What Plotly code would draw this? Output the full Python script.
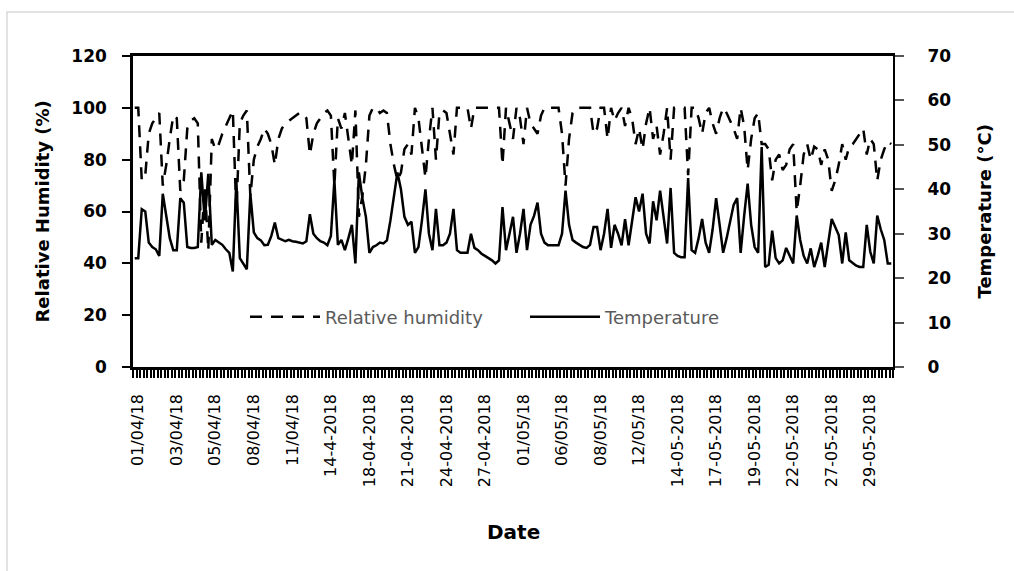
import plotly.graph_objects as go

# Tick labels shown along the date axis (one every 11 readings)
date_labels = [
    "01/04/18", "03/04/18", "05/04/18", "08/04/18", "11/04/18",
    "14-4-2018", "18-04-2018", "21-04-2018", "24-04-2018", "27-04-2018",
    "01/05/18", "06/05/18", "08/05/18", "12/05/18", "14-05-2018",
    "17-05-2018", "19-05-2018", "22-05-2018", "27-05-2018", "29-05-2018",
]

# Air temperature (°C), one value per reading
temperature = [
    24.5, 24.5, 35.5, 35, 28, 27, 26.5, 25, 39, 34,
    29, 26.3, 26.3, 38, 37, 27, 26.8, 26.8, 27, 43.8,
    33, 43.5, 27.5, 28.6, 28, 27.5, 26.5, 25.7, 21.5, 42,
    24.5, 23.3, 22, 39, 30.3, 29, 28.5, 27.4, 27.5, 29.5,
    32.5, 29, 28.6, 28.3, 28.6, 28.3, 28.2, 28, 27.8, 28.3,
    34.4, 30, 29, 28.3, 28, 27.4, 29.5, 42, 27.5, 28.6,
    26.3, 29, 32, 23.3, 43.8, 38, 33.8, 25.7, 27, 27.4,
    28, 27.8, 28.5, 33, 38, 43.8, 40, 33.8, 32, 32.7,
    25.7, 27, 33, 40, 30, 26.3, 35.6, 27.4, 27.4, 28,
    30, 35.6, 26.3, 25.7, 25.7, 25.7, 30, 26.8, 26.3, 25.5,
    25, 24.5, 24, 23.3, 24, 36, 26.3, 30, 33.8, 25.7,
    30, 35.6, 26.3, 32, 34, 37, 30, 28, 27.4, 27.4,
    27.4, 27.4, 30, 39.7, 32, 28.6, 28, 27.4, 27, 26.8,
    27.5, 31.5, 31.5, 26.3, 30, 35.6, 26.8, 32, 30, 27.4,
    33.3, 27.4, 33, 38.2, 35, 39, 30, 27.8, 37.3, 33,
    39.7, 34, 27.8, 40.3, 25.7, 25, 24.7, 24.7, 42.5, 26.3,
    25.7, 29, 33.3, 28, 25.7, 31, 38, 32, 25.7, 29,
    33, 36.5, 38, 25.7, 34, 41.3, 32, 27, 25.7, 49.5,
    22.5, 23, 30.7, 24.5, 23.3, 24, 26.8, 25, 23.3, 34.1,
    28.6, 25, 23.3, 26.7, 22.5, 25, 28, 22.5, 28, 33.3,
    31.5, 29.7, 23.3, 30.3, 24, 23.3, 22.8, 22.5, 22.5, 32,
    26, 23.3, 34.1, 31, 28.6, 23.3, 23.3,
]

# Relative humidity (%), one value per reading
humidity = [
    100, 100, 72, 74, 90, 94, 96, 98, 70, 78,
    88, 97, 96, 68, 72, 92, 95, 96, 94, 48,
    70, 45, 88, 84, 86, 90, 93, 96, 99, 60,
    94, 97, 99, 66, 80, 85, 88, 92, 90, 86,
    78, 88, 92, 94, 95, 96, 97, 98, 98, 96,
    82, 90, 94, 96, 98, 99, 97, 70, 96, 92,
    98, 88, 78, 99, 58, 66, 78, 97, 100, 100,
    98, 99, 98, 86, 78, 72, 75, 84, 86, 82,
    100, 96, 84, 73, 88, 100, 80, 98, 99, 98,
    90, 82, 100, 100, 100, 100, 92, 100, 100, 100,
    100, 100, 100, 100, 100, 78, 100, 94, 88, 100,
    96, 86, 100, 94, 92, 90, 97, 100, 100, 100,
    100, 100, 90, 70, 88, 98, 100, 100, 100, 100,
    100, 90, 92, 100, 100, 88, 100, 95, 98, 100,
    93, 100, 96, 86, 92, 84, 94, 100, 88, 93,
    82, 90, 100, 80, 100, 100, 100, 100, 74, 100,
    100, 96, 90, 98, 100, 94, 90, 96, 100, 98,
    95, 92, 88, 100, 93, 76, 88, 96, 98, 86,
    86, 84, 72, 80, 82, 76, 78, 84, 86, 60,
    70, 82, 86, 80, 85, 84, 78, 84, 80, 68,
    72, 78, 86, 80, 85, 86, 88, 90, 92, 82,
    88, 86, 72, 80, 84, 87, 86,
]

n = len(temperature)
x = list(range(n))
label_pos = [1 + 11 * k for k in range(len(date_labels))]

FONT = "DejaVu Sans"

fig = go.Figure()
fig.add_trace(go.Scatter(
    x=x, y=humidity, mode="lines", name="Relative humidity",
    line=dict(color="black", width=2.5, dash="12px,9px"),
    yaxis="y",
))
fig.add_trace(go.Scatter(
    x=x, y=temperature, mode="lines", name="Temperature",
    line=dict(color="black", width=2.5),
    yaxis="y2",
))

W, H = 1014, 571
L, R, T, B = 133, 121, 56, 204
pw, ph = W - L - R, H - T - B


def px_x(p):
    return (p - L) / pw


def px_y(p):
    return (H - B - p) / ph


fig.update_layout(
    width=W, height=H,
    margin=dict(l=L, r=R, t=T, b=B),
    paper_bgcolor="white", plot_bgcolor="white",
    font=dict(family=FONT, color="black"),
    showlegend=True,
    legend=dict(
        orientation="h", x=px_x(245), y=px_y(317),
        xanchor="left", yanchor="middle",
        bgcolor="rgba(0,0,0,0)",
        font=dict(family=FONT, size=18, color="#5a5a5a"),
        itemwidth=70, tracegroupgap=0,
        entrywidth=195, entrywidthmode="pixels",
    ),
    xaxis=dict(
        range=[-0.5, n - 0.5],
        tickmode="array", tickvals=label_pos, ticktext=date_labels,
        tickangle=-90, ticks="", ticklabelstandoff=18,
        tickfont=dict(family=FONT, size=16, color="black"),
        showline=True, linecolor="black", linewidth=2.5, mirror=True,
        showgrid=False, zeroline=False,
        minor=dict(tickmode="linear", tick0=-0.5, dtick=1, ticks="outside",
                   ticklen=8, tickwidth=1.5, tickcolor="black", showgrid=False),
    ),
    yaxis=dict(
        range=[0, 120], dtick=20, ticks="outside", ticklen=8, tickwidth=1.5,
        tickcolor="black", ticklabelstandoff=12,
        tickfont=dict(family=FONT, size=17, color="black", weight="bold"),
        showline=True, linecolor="black", linewidth=2.5,
        showgrid=False, zeroline=False,
    ),
    yaxis2=dict(
        range=[0, 70], dtick=10, overlaying="y", side="right",
        ticks="outside", ticklen=9, tickwidth=1.5, tickcolor="#555555",
        ticklabelstandoff=20,
        tickfont=dict(family=FONT, size=17, color="black", weight="bold"),
        showline=True, linecolor="black", linewidth=2,
        showgrid=False, zeroline=False,
    ),
    annotations=[
        dict(text="Relative Humidity (%)", xref="paper", yref="paper",
             x=px_x(42), y=0.5, xanchor="center", yanchor="middle",
             textangle=-90, showarrow=False,
             font=dict(family=FONT, size=18, color="black", weight="bold")),
        dict(text="Temperature (°C)", xref="paper", yref="paper",
             x=px_x(984), y=0.5, xanchor="center", yanchor="middle",
             textangle=-90, showarrow=False,
             font=dict(family=FONT, size=18, color="black", weight="bold")),
        dict(text="Date", xref="paper", yref="paper",
             x=0.5, y=px_y(532), xanchor="center", yanchor="middle",
             showarrow=False,
             font=dict(family=FONT, size=20, color="black", weight="bold")),
    ],
    shapes=[
        dict(type="rect", xref="paper", yref="paper",
             x0=px_x(7), x1=px_x(1030), y0=px_y(590), y1=px_y(12),
             line=dict(color="#d9d9d9", width=1.5), fillcolor="rgba(0,0,0,0)",
             layer="below"),
    ],
)

fig.write_html("out.html")
